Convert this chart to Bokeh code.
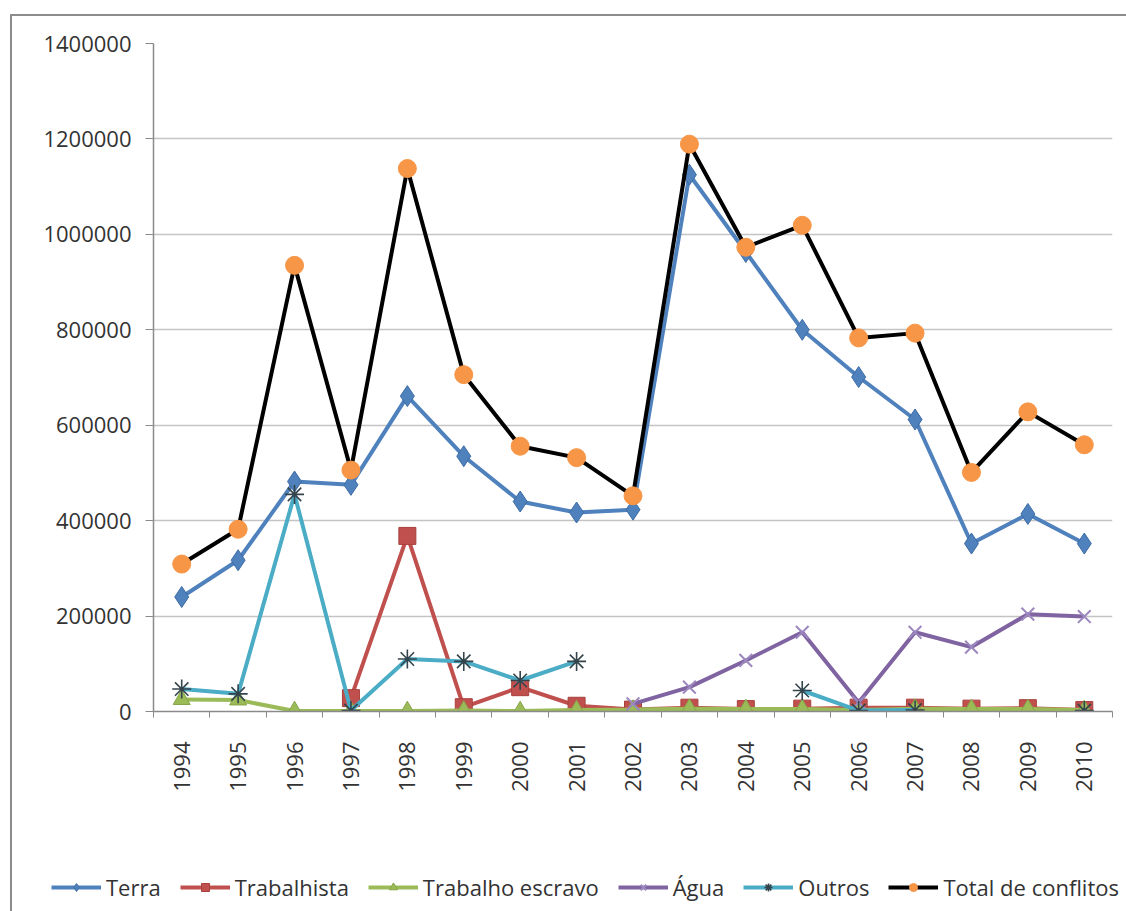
import math
from bokeh.plotting import figure
from bokeh.layouts import column
from bokeh.models import (Range1d, FixedTicker, NumeralTickFormatter, Legend, LegendItem)
from bokeh.embed import file_html
from bokeh.resources import INLINE

nan = float("nan")

years = list(range(1994, 2011))
terra = [240000, 317000, 482000, 475000, 661000, 535000, 440000, 417000, 423000,
         1125000, 963000, 800000, 701000, 612000, 352000, 414000, 352000]
trabalhista = [nan, nan, nan, 28000, 368000, 9000, 51000, 12000, 4000,
               8000, 5000, 6000, 8000, 8000, 6000, 7000, 3000]
escravo = [25000, 24000, 1000, 1000, 1000, 2000, 1000, 3000, 4000,
           6000, 5000, 5000, 3000, 6000, 5000, 5000, 3000]
agua = [nan, nan, nan, nan, nan, nan, nan, nan, 16000,
        51000, 107000, 166000, 19000, 166000, 135000, 204000, 199000]
outros = [47000, 37000, 455000, 2000, 110000, 105000, 65000, 105000, nan,
          nan, nan, 44000, 2000, 3000, nan, nan, 2000]
total = [309000, 382000, 935000, 506000, 1138000, 706000, 556000, 532000, 452000,
         1189000, 973000, 1019000, 783000, 793000, 501000, 628000, 559000]
y_ticks = [0, 200000, 400000, 600000, 800000, 1000000, 1200000, 1400000]
labels = ["Terra", "Trabalhista", "Trabalho escravo", "Água", "Outros", "Total de conflitos"]

FONT = "Open Sans"
TXT = "#333333"
AXC = "#8a8a8a"

p = figure(width=1114, height=784, output_backend="svg", toolbar_location=None,
           x_range=Range1d(years[0] - 0.5, years[-1] + 0.5),
           y_range=Range1d(y_ticks[0], y_ticks[-1]),
           min_border_left=141, min_border_right=14, min_border_top=27,
           min_border_bottom=89)
p.outline_line_color = None
p.background_fill_color = "white"
p.border_fill_color = "white"

p.xgrid.grid_line_color = None
p.ygrid.grid_line_color = "#c4c4c4"
p.ygrid.grid_line_width = 1.5

# y axis
p.yaxis.ticker = FixedTicker(ticks=y_ticks)
p.yaxis.formatter = NumeralTickFormatter(format="0")
p.yaxis.axis_line_color = AXC
p.yaxis.axis_line_width = 1.5
p.yaxis.major_tick_line_color = AXC
p.yaxis.major_tick_out = 8
p.yaxis.major_tick_in = 0
p.yaxis.minor_tick_line_color = None
p.yaxis.major_label_standoff = 14
p.yaxis.major_label_text_font = FONT
p.yaxis.major_label_text_font_size = "22px"
p.yaxis.major_label_text_color = TXT

# x axis
p.xaxis.ticker = FixedTicker(ticks=years, minor_ticks=[y - 0.5 for y in years] + [years[-1] + 0.5])
p.xaxis.major_label_overrides = {y: str(y) for y in years}
p.xaxis.axis_line_color = AXC
p.xaxis.axis_line_width = 1.5
p.xaxis.major_tick_out = 0
p.xaxis.major_tick_in = 0
p.xaxis.minor_tick_line_color = AXC
p.xaxis.minor_tick_out = 6
p.xaxis.minor_tick_in = 0
p.xaxis.major_label_orientation = math.pi / 2
p.xaxis.major_label_standoff = 24
p.xaxis.major_label_text_font = FONT
p.xaxis.major_label_text_font_size = "22px"
p.xaxis.major_label_text_color = TXT

# legend strip (own figure; its series copies lie outside its visible range)
pl = figure(width=1114, height=111, output_backend="svg", toolbar_location=None,
            x_axis_location=None, y_axis_location=None,
            x_range=Range1d(0, 1), y_range=Range1d(0, 1),
            min_border_left=0, min_border_right=0, min_border_top=0, min_border_bottom=0)
pl.frame_align = False
pl.outline_line_color = None
pl.xgrid.grid_line_color = None
pl.ygrid.grid_line_color = None
pl.background_fill_color = "white"
pl.border_fill_color = "white"

LW = 4
styles = [
    (terra, "#4F81BD", "diamond", 21, "#4F81BD", "#3D6CA6", 1),
    (trabalhista, "#C0504D", "square", 17, "#C0504D", "#A8403D", 1),
    (escravo, "#9BBB59", "triangle", 17, "#9BBB59", "#86A648", 1),
    (agua, "#8064A2", "x", 18, None, "#9C88BE", 2),
    (outros, "#4BACC6", "asterisk", 19, None, "#34444C", 1.6),
    (total, "#000000", "circle", 18, "#F79646", "#F79646", 1),
]

items = []
for label, (vals, color, marker, size, fill, mline, mlw) in zip(labels, styles):
    p.line(years, vals, line_color=color, line_width=LW)
    p.scatter(years, vals, marker=marker, size=size, fill_color=fill,
              line_color=mline, line_width=mlw)
    lr = pl.line(years, vals, line_color=color, line_width=LW)
    sr = pl.scatter(years, vals, marker=marker, size=size, fill_color=fill,
                    line_color=mline, line_width=mlw)
    items.append(LegendItem(label=label, renderers=[lr, sr], index=0))

legend = Legend(items=items, orientation="horizontal", location=(39, 9),
                glyph_width=50, glyph_height=20, label_standoff=5, spacing=19,
                padding=0, margin=0, label_text_font=FONT,
                label_text_font_size="22px", label_text_color=TXT,
                background_fill_alpha=0, border_line_alpha=0)
pl.add_layout(legend)

layout = column(p, pl, spacing=0)
layout.styles = {"margin-left": "10px", "margin-top": "14px",
                 "border-left": "2px solid #8c8c8c", "border-top": "2px solid #8c8c8c"}

open("out.html", "w").write(file_html(layout, INLINE))
